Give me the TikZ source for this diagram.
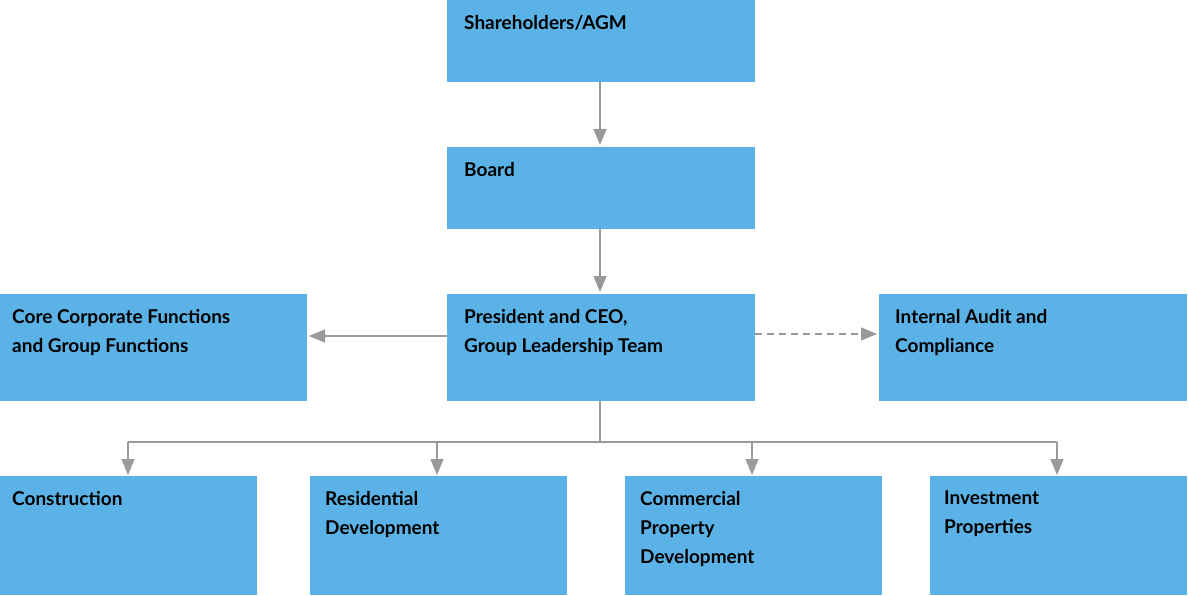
\documentclass[tikz,border=0pt]{standalone}
\usepackage{fontspec}
\setmainfont{Lato}
\usetikzlibrary{arrows.meta}
\definecolor{boxc}{HTML}{5BB2E6}
\definecolor{arr}{HTML}{999999}
\begin{document}
\begin{tikzpicture}[x=1pt,y=-1pt,
 box/.style={fill=boxc,draw=none},
 lbl/.style={anchor=north west,inner sep=0pt,align=left,font=\fontsize{19}{29}\selectfont\bfseries},
 con/.style={draw=arr,line width=1.3pt,-{Triangle[length=16pt,width=13pt]}}]
\useasboundingbox (0,0) rectangle (1188,596);
\path[box] (447,0) rectangle (755,82) coordinate (shB);
\path[box] (447,147) rectangle (755,229);
\path[box] (447,294) rectangle (755,401);
\path[box] (0,294) rectangle (307,401);
\path[box] (879,294) rectangle (1187,401);
\path[box] (0,476) rectangle (257,595);
\path[box] (310,476) rectangle (567,595);
\path[box] (625,476) rectangle (882,595);
\path[box] (930,476) rectangle (1187,595);
\node[lbl] (sh) at (464,15) {Shareholders/AGM};
\node[lbl] (bd) at (464,162) {Board};
\node[lbl] (ceo) at (464,309) {President and CEO,\\Group Leadership Team};
\node[lbl] (core) at (12,309) {Core Corporate Functions\\and Group Functions};
\node[lbl] (aud) at (895,309) {Internal Audit and\\Compliance};
\node[lbl] (con1) at (12,491) {Construction};
\node[lbl] (res) at (325,491) {Residential\\Development};
\node[lbl] (com) at (640,491) {Commercial\\Property\\Development};
\node[lbl] (inv) at (944,491) {Investment\\Properties};
\coordinate (a1) at (600,82); \coordinate (a2) at (600,145);
\coordinate (b1) at (600,229); \coordinate (b2) at (600,292);
\coordinate (c1) at (447,336); \coordinate (c2) at (309,336);
\coordinate (d1) at (755,334); \coordinate (d2) at (877,334);
\coordinate (e0) at (600,401); \coordinate (e1) at (600,442);
\draw[con] (a1) -- (a2);
\draw[con] (b1) -- (b2);
\draw[con] (c1) -- (c2);
\draw[con,dashed,dash pattern=on 7pt off 5pt] (d1) -- (d2);
\draw[draw=arr,line width=1.3pt] (e0) -- (e1) (128,442) -- (1057,442);
\foreach \x in {128,437,752,1057}{\draw[con] (\x,442) -- (\x,475);}
\end{tikzpicture}
\end{document}
